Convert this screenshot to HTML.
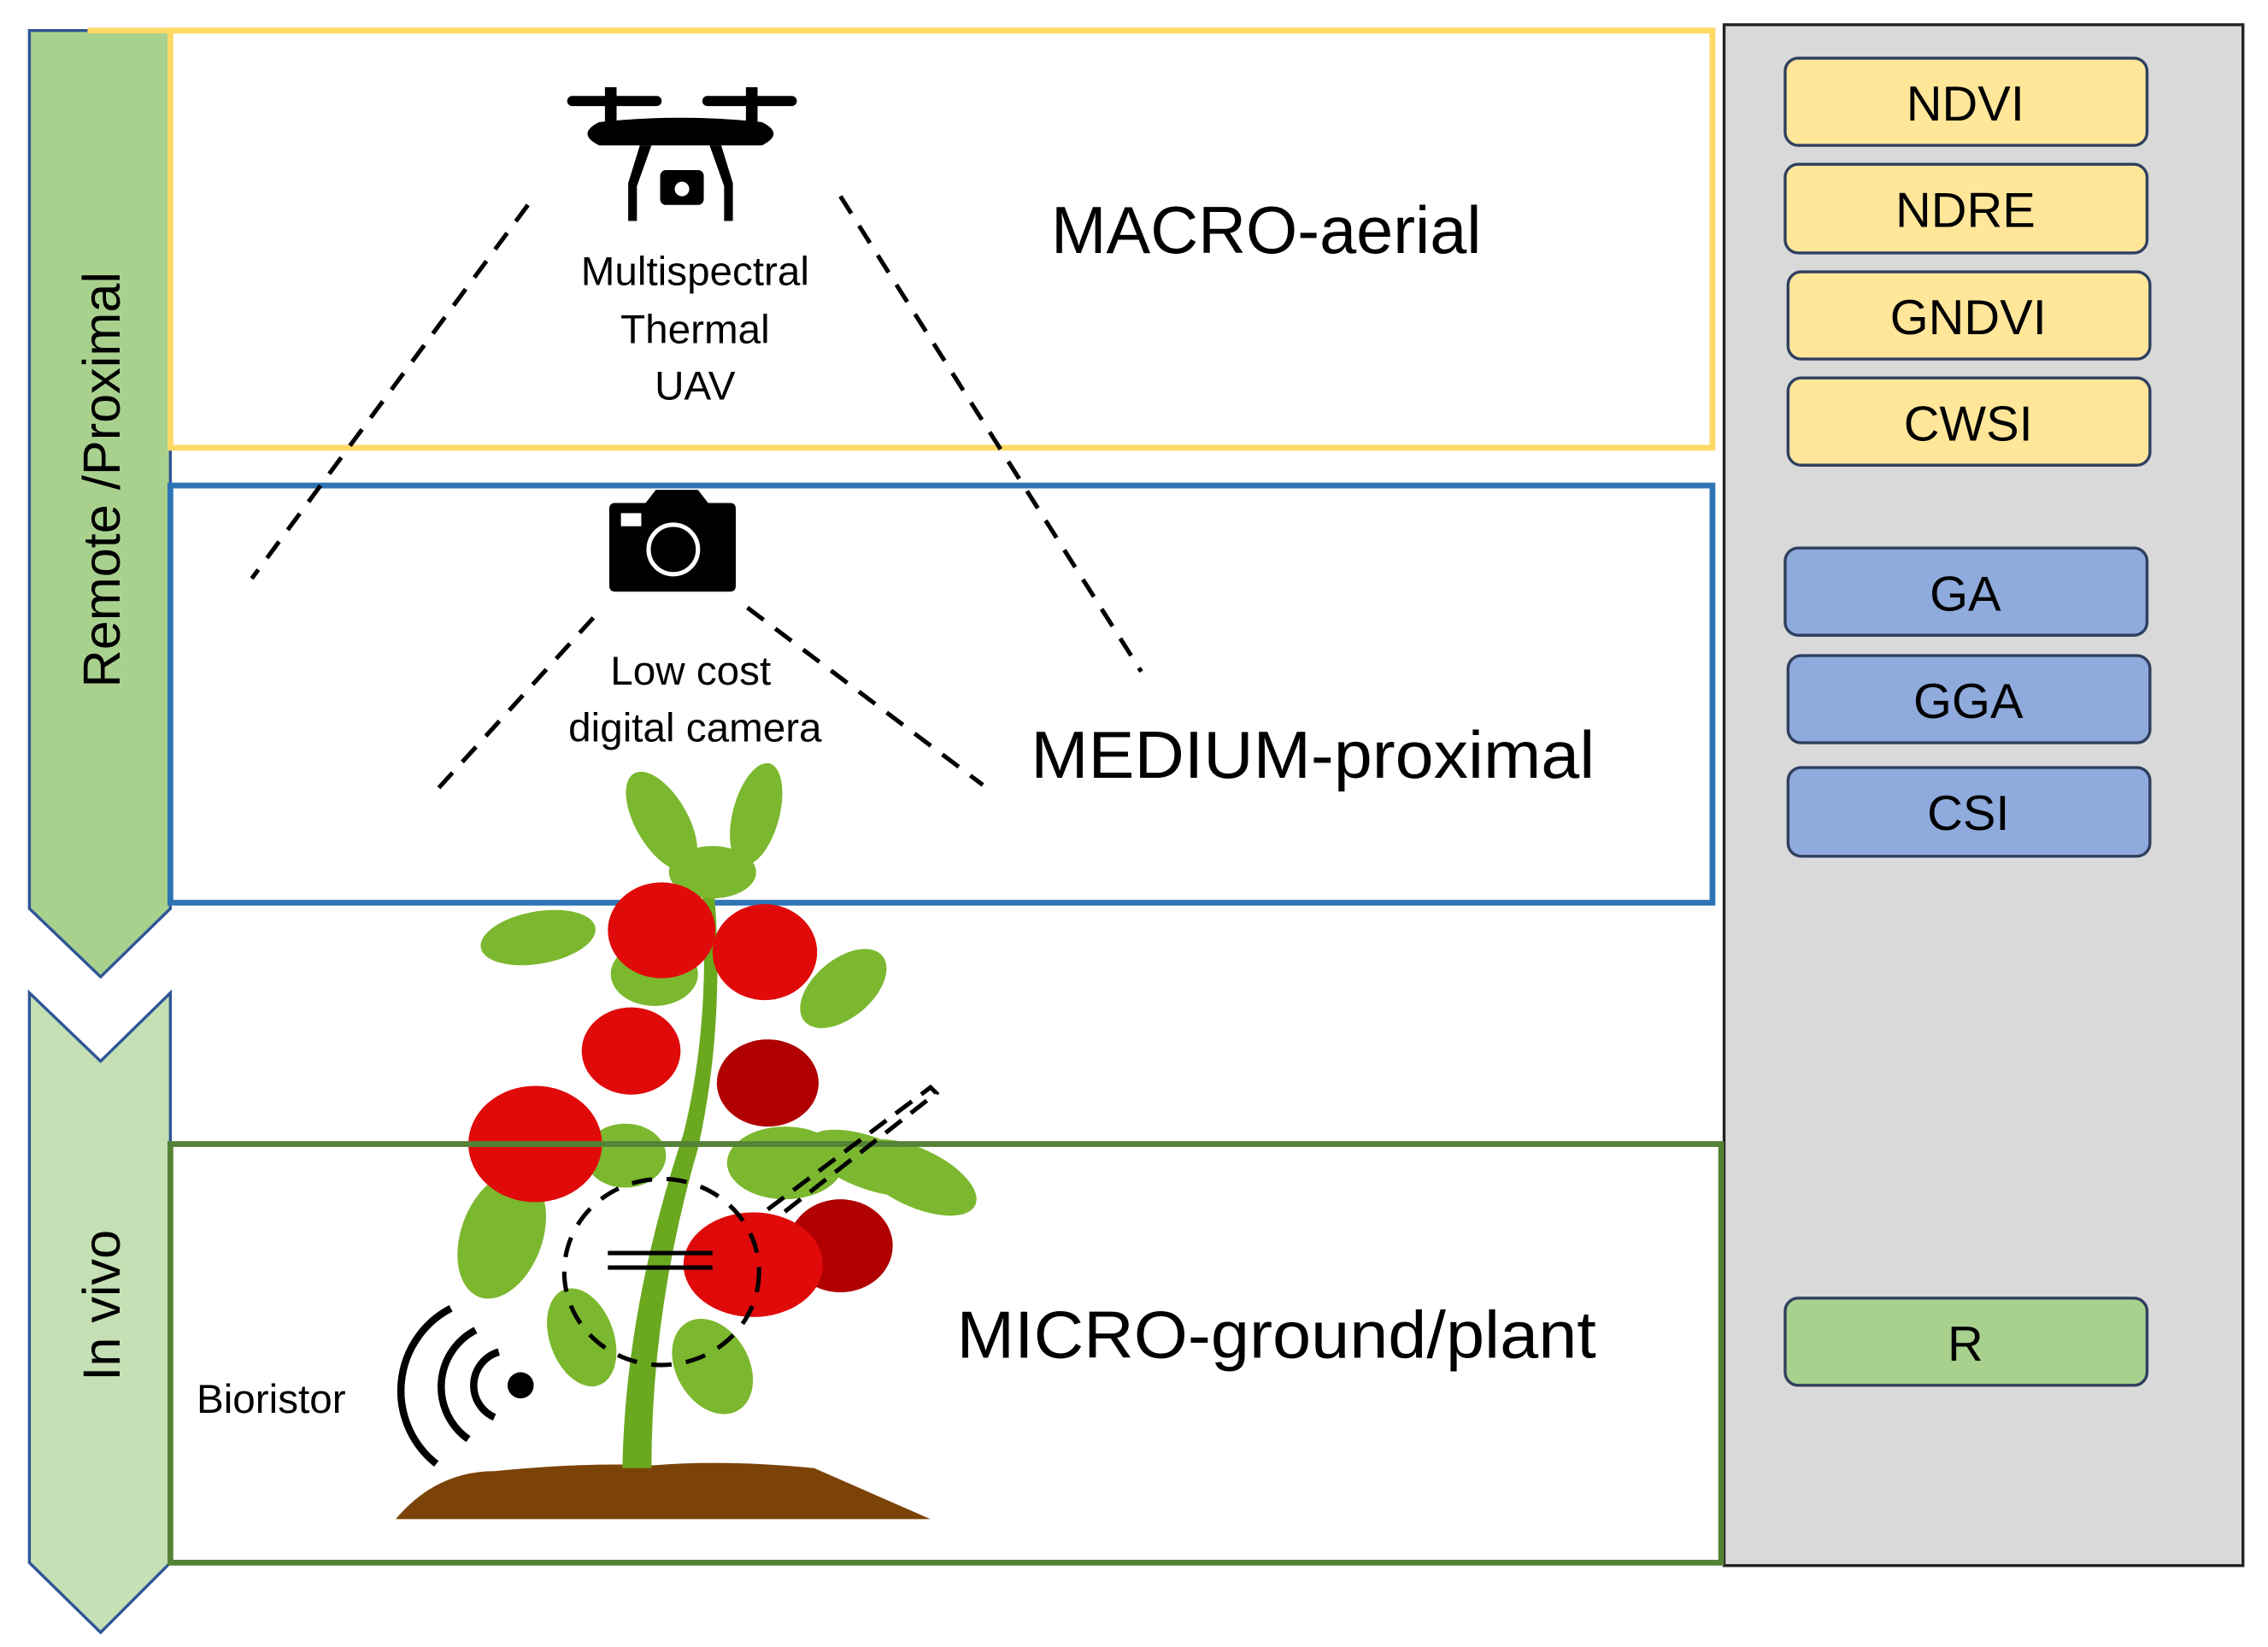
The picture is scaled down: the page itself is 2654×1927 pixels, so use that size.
<!DOCTYPE html>
<html><head><meta charset="utf-8"><style>html,body{margin:0;padding:0;background:#fff}svg{display:block}</style></head>
<body>
<svg width="2654" height="1927" viewBox="0 0 1560 1133" xmlns="http://www.w3.org/2000/svg" font-family="Liberation Sans, DejaVu Sans, sans-serif">
<rect width="1560" height="1133" fill="#fff"/>
<!-- right panel -->
<rect x="1186" y="17" width="357" height="1060" fill="#d9d9d9" stroke="#222" stroke-width="2"/>
<!-- left arrows -->
<polygon points="20,21 117,21 117,625 69,672 20,625" fill="#a9d18e" stroke="#2f5597" stroke-width="2"/>
<polygon points="20,683 69,730 117,683 117,1075 69,1123 20,1075" fill="#c5e0b4" stroke="#2f5597" stroke-width="2"/>
<text transform="translate(82,330) rotate(-90)" text-anchor="middle" font-size="36" fill="#000">Remote /Proximal</text>
<text transform="translate(82,898) rotate(-90)" text-anchor="middle" font-size="36" fill="#000">In vivo</text>
<!-- boxes -->
<line x1="60" y1="21" x2="1178" y2="21" stroke="#ffd966" stroke-width="4"/>
<rect x="117" y="21" width="1061" height="287" fill="none" stroke="#ffd966" stroke-width="4"/>
<rect x="117" y="334" width="1061" height="287" fill="none" stroke="#2e75b6" stroke-width="4"/>
<!-- badges -->
<g stroke="#2f3f5f" stroke-width="2" font-size="34" text-anchor="middle" fill="#000">
<rect x="1228" y="40" width="249" height="60" rx="9" fill="#ffe699"/>
<rect x="1228" y="113" width="249" height="61" rx="9" fill="#ffe699"/>
<rect x="1230" y="187" width="249" height="60" rx="9" fill="#ffe699"/>
<rect x="1230" y="260" width="249" height="60" rx="9" fill="#ffe699"/>
<rect x="1228" y="377" width="249" height="60" rx="9" fill="#8faadc"/>
<rect x="1230" y="451" width="249" height="60" rx="9" fill="#8faadc"/>
<rect x="1230" y="528" width="249" height="61" rx="9" fill="#8faadc"/>
<rect x="1228" y="893" width="249" height="60" rx="9" fill="#a9d18e"/>
</g>
<g font-size="34" text-anchor="middle" fill="#000">
<text x="1352" y="83">NDVI</text><text x="1352" y="156">NDRE</text><text x="1354" y="230">GNDVI</text><text x="1354" y="303">CWSI</text>
<text x="1352" y="420">GA</text><text x="1354" y="494">GGA</text><text x="1354" y="571">CSI</text><text x="1352" y="936">R</text>
</g>
<!-- labels -->
<text x="723" y="174" font-size="46" textLength="296" lengthAdjust="spacingAndGlyphs">MACRO-aerial</text>
<text x="709" y="535" font-size="46" textLength="388" lengthAdjust="spacingAndGlyphs">MEDIUM-proximal</text>
<text x="658" y="934" font-size="46" textLength="440" lengthAdjust="spacingAndGlyphs">MICRO-ground/plant</text>
<g font-size="28" text-anchor="middle" fill="#000">
<text x="478" y="196">Multispectral</text><text x="478" y="236">Thermal</text><text x="478" y="275">UAV</text>
<text x="475" y="471">Low cost</text><text x="478" y="510">digital camera</text>
</g>
<text x="135" y="972" font-size="28">Bioristor</text>
<!-- dashed lines -->
<g stroke="#000" stroke-width="3" stroke-dasharray="14,10" fill="none">
<line x1="363" y1="141" x2="173" y2="398"/>
<line x1="578" y1="135" x2="785" y2="462"/>
<line x1="408" y1="425" x2="298" y2="546"/>
<line x1="514" y1="418" x2="676" y2="540"/>
</g>
<!-- drone -->
<g fill="#000">
<rect x="390" y="66" width="65" height="7" rx="3.5"/><rect x="483" y="66" width="65" height="7" rx="3.5"/>
<rect x="416" y="60" width="8" height="25"/><rect x="513" y="60" width="8" height="25"/>
<path d="M412,84 Q468,78 524,84 Q540,92 524,100 L412,100 Q396,92 412,84 Z"/>
<path d="M440,100 L448,100 L438,128 L438,152 L432,152 L432,126 Z"/>
<path d="M496,100 L488,100 L498,128 L498,152 L504,152 L504,126 Z"/>
<rect x="454" y="117" width="30" height="24" rx="4"/>
</g>
<circle cx="469" cy="130" r="5" fill="#fff"/>
<!-- camera -->
<path d="M419,350 Q419,346 423,346 L444,346 L451,337 L480,337 L487,346 L502,346 Q506,346 506,350 L506,403 Q506,407 502,407 L423,407 Q419,407 419,403 Z" fill="#000"/>
<rect x="427" y="353" width="14" height="9" fill="#fff"/>
<circle cx="463" cy="378" r="17" fill="none" stroke="#fff" stroke-width="3"/>
<!-- plant -->
<path d="M272,1045 Q300,1012 340,1012 Q400,1006 450,1008 Q500,1004 560,1010 L640,1045 Z" fill="#7b4307"/>
<path d="M428,1010 Q430,900 470,780 Q490,700 482,600 L490,600 Q500,700 480,790 Q448,900 448,1010 Z" fill="#6aa820"/>
<g fill="#7cb82f">
<ellipse cx="455" cy="565" rx="18" ry="38" transform="rotate(-30 455 565)"/>
<ellipse cx="520" cy="560" rx="16" ry="36" transform="rotate(15 520 560)"/>
<ellipse cx="490" cy="600" rx="30" ry="18"/>
<ellipse cx="370" cy="645" rx="40" ry="18" transform="rotate(-10 370 645)"/>
<ellipse cx="450" cy="670" rx="30" ry="22"/>
<ellipse cx="580" cy="680" rx="35" ry="20" transform="rotate(-40 580 680)"/>
<ellipse cx="345" cy="850" rx="28" ry="45" transform="rotate(20 345 850)"/>
<ellipse cx="630" cy="810" rx="45" ry="20" transform="rotate(25 630 810)"/>
<ellipse cx="540" cy="800" rx="40" ry="25"/>
<ellipse cx="430" cy="795" rx="28" ry="22"/>
<ellipse cx="400" cy="920" rx="22" ry="35" transform="rotate(-20 400 920)"/>
<ellipse cx="490" cy="940" rx="25" ry="35" transform="rotate(-30 490 940)"/>
</g>
<g fill="#e00a0a">
<ellipse cx="455" cy="640" rx="37" ry="33"/>
<ellipse cx="526" cy="655" rx="36" ry="33"/>
<ellipse cx="434" cy="723" rx="34" ry="30"/>
<ellipse cx="368" cy="787" rx="46" ry="40"/>
<ellipse cx="578" cy="857" rx="36" ry="32" fill="#b00000"/>
<ellipse cx="528" cy="745" rx="35" ry="30" fill="#b00000"/>
<ellipse cx="518" cy="870" rx="48" ry="36"/>
</g>
<ellipse cx="598" cy="800" rx="45" ry="18" fill="#7cb82f" transform="rotate(20 598 800)"/>
<!-- green box -->
<rect x="117" y="787" width="1067" height="288" fill="none" stroke="#548235" stroke-width="4"/>
<!-- sensor -->
<g stroke="#000" stroke-width="3" fill="none">
<ellipse cx="455" cy="875" rx="67" ry="64" stroke-dasharray="14,10"/>
<path d="M528,832 L640,748 L644,752 L534,838" stroke-dasharray="14,8"/>
<line x1="418" y1="862" x2="490" y2="862"/>
<line x1="418" y1="872" x2="490" y2="872"/>
<path d="M343,930 A24,24 0 0 0 340,975" stroke-width="5"/>
<path d="M327,915 A44,44 0 0 0 322,990" stroke-width="5"/>
<path d="M310,900 A64,64 0 0 0 300,1007" stroke-width="5"/>
</g>
<circle cx="358" cy="953" r="9" fill="#000"/>
</svg>
</body></html>
